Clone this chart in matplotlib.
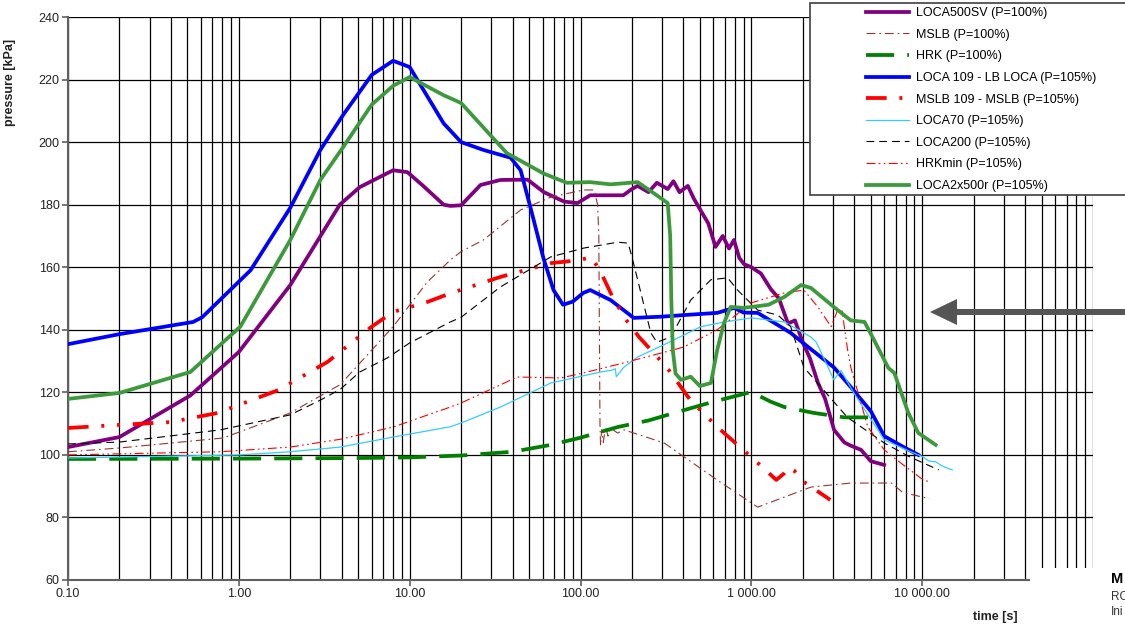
import matplotlib
matplotlib.use('Agg')

import matplotlib.pyplot as plt
from matplotlib.patches import Rectangle, Polygon
from matplotlib.ticker import LogLocator, FixedLocator, FuncFormatter, NullFormatter

plt.rcParams['font.family'] = ['Liberation Sans', 'DejaVu Sans']

W, H = 1125, 627

# ---- data (time [s], pressure [kPa]) ----
loca500sv_t = [0.1, 0.2, 0.52, 1.0, 2.0, 3.9, 5.1, 8.0, 9.7, 12, 15.8, 17.3, 20, 26, 34, 49, 61, 80, 96, 114, 150,
               178, 200, 216, 250, 280, 324, 350, 380, 425, 460, 507, 560, 617, 680, 740, 791, 850, 906, 1000, 1138,
               1300, 1450, 1640, 1800, 2000, 2200, 2456, 2700, 3050, 3500, 3800, 4390, 5000, 5985]
loca500sv_p = [102.5, 105.7, 119, 132.9, 154.3, 180, 185.6, 191, 190.4, 186, 180, 179.6, 179.8, 186.3, 187.9, 188, 184,
               181, 180.5, 183, 183, 183, 185, 186, 184, 187, 185, 187.5, 184, 186, 182, 178, 174, 166.5, 170, 166,
               168.7, 163, 161, 160, 158, 153, 150, 142, 143, 136, 131, 123, 118, 108, 104, 103, 101.6, 98, 96.8]

mslb_t = [0.1, 0.2, 0.81, 2.0, 3.93, 8.0, 12.7, 17.3, 20, 27, 44.6, 67, 104, 120, 126, 128, 129, 130, 131, 133, 136,
          140, 145, 150, 165, 180, 309, 630, 1090, 1560, 2230, 3820, 6600, 7700, 11000]
mslb_p = [101, 102.2, 105.4, 113.4, 122.5, 141, 155.3, 162.3, 165, 168.7, 178.3, 182.4, 184.7, 184.7, 180, 170, 140,
          110, 103, 108, 104, 109, 106, 108.5, 107, 108, 103.8, 92, 83.3, 86.5, 89.7, 91, 91, 88, 86]

hrk_t = [0.1, 1, 5, 10, 20, 40, 67, 100, 165, 250, 403, 600, 1000, 1300, 1560, 2330, 3500, 5000]
hrk_p = [98.7, 98.8, 99, 99.2, 99.8, 101, 103.2, 105.5, 108.9, 111, 114.3, 117, 120.1, 117, 115.3, 113.4, 112, 112]

loca109_t = [0.1, 0.2, 0.54, 0.61, 1.17, 2.0, 3.0, 4.08, 6.0, 8.0, 10, 15.8, 20, 27, 39, 44.6, 51, 60.6, 69.5, 79, 90,
             104, 114, 150, 205, 300, 403, 631, 794, 900, 1090, 1430, 1700, 2150, 3040, 3820, 5000, 6000, 7500, 9500]
loca109_p = [135.4, 138.6, 142.5, 144, 159, 179, 197.5, 208.7, 221.5, 226, 224, 206, 200, 197.5, 195, 191, 179, 163,
             152.7, 148, 149, 151.8, 152.7, 149.5, 143.8, 144.2, 144.7, 145.4, 147, 145.5, 145.4, 141.5, 139, 134.5,
             128, 121.7, 114, 106, 103, 100]

mslb109_t = [0.1, 0.2, 0.4, 0.75, 1.7, 3.3, 6, 8, 12.7, 17, 34, 67, 100, 115, 130, 150, 180, 220, 320, 440, 630, 1000,
             1400, 1550, 1650, 1780, 1950, 2900]
mslb109_p = [108.6, 109.6, 110.5, 113.4, 120.7, 129.7, 141, 145.7, 148.9, 151.5, 156.9, 161.3, 162.3, 163.3, 159,
             151.8, 144, 137.7, 128, 117.5, 109, 99.3, 92, 94, 96, 95, 92, 85.6]

loca70_t = [0.1, 1.02, 2.0, 3.93, 8, 17.3, 20, 34, 67, 131, 150, 160, 162, 179, 216, 324, 507, 696, 1000, 1560, 2230,
            2400, 2500, 3040, 3350, 3980, 6000, 8900, 10000, 11000, 12000, 13000, 14000, 15000]
loca70_p = [99, 100, 101, 102.5, 105.7, 109, 110.2, 115.3, 123, 126.5, 127, 127.5, 125, 128, 131.3, 135.8, 141, 142.5,
            143.8, 142.5, 137.7, 136, 134, 124, 127, 119.8, 104.8, 100.6, 99.5, 98, 97.8, 96.5, 95.8, 95.2]

loca200_t = [0.1, 0.2, 0.78, 2.0, 3.0, 3.93, 5.1, 7.4, 10, 17.3, 20, 34, 67, 104, 165, 190, 200, 230, 258, 280, 338,
             442, 580, 727, 830, 1090, 1430, 1700, 2030, 2650, 3650, 6000, 8500, 12500]
loca200_p = [103.5, 104.1, 108, 112.8, 117.5, 121, 126.5, 131, 135.8, 142.5, 144, 153.7, 163.3, 166.1, 168, 167.7,
             163.3, 150, 139, 136, 137.7, 149.5, 156, 156.6, 152.7, 146.3, 144.7, 141, 128, 120.7, 112, 103.8, 99.3,
             95.2]

hrkmin_t = [0.1, 0.78, 2.0, 3.93, 8, 17.3, 20, 42.7, 77, 104, 179, 403, 631, 1000, 1560, 2030, 2450, 2930, 3200, 3400,
            3650, 3820, 4800, 6000, 7500, 9800, 11000]
hrkmin_p = [100, 101, 102.5, 105, 108.9, 115.3, 116.6, 124.9, 124.6, 126.2, 129.4, 134.5, 140, 148.6, 151.8, 152.7,
            147.3, 141, 146.3, 146, 134, 128, 109, 101.6, 97.4, 92.6, 91.3]

loca2x500r_t = [0.1, 0.2, 0.52, 1.02, 2.0, 3.0, 4.08, 6.0, 8, 10, 15.8, 20, 37, 60.6, 83, 114, 150, 216, 268, 324, 335,
                340, 347, 360, 388, 442, 500, 580, 631, 690, 757, 906, 1260, 1560, 1954, 2230, 3040, 3820, 4600, 5230,
                6340, 6870, 8300, 9500, 12000]
loca2x500r_p = [117.9, 119.8, 126.5, 141, 168.7, 187.9, 198.4, 212, 218, 220.8, 215, 212.5, 196.5, 190, 187, 187.2,
                186.5, 187.2, 183.7, 180.5, 170, 150, 133.5, 126, 124, 125, 122, 123, 133.5, 142, 147.3, 147, 148,
                150.5, 154.3, 153.4, 147.3, 143, 142.5, 136.7, 127.8, 126.2, 113.4, 107, 103.2]

series = [
    ("LOCA500SV (P=100%)", loca500sv_t, loca500sv_p, '#800080', 2.7, '-'),
    ("MSLB (P=100%)", mslb_t, mslb_p, '#993333', 0.8, (0, (8, 3.5, 1.5, 3.5))),
    ("HRK (P=100%)", hrk_t, hrk_p, '#008000', 2.7, (0, (7.5, 3.5))),
    ("LOCA 109 - LB LOCA (P=105%)", loca109_t, loca109_p, '#0000ff', 2.7, '-'),
    ("MSLB 109 - MSLB (P=105%)", mslb109_t, mslb109_p, '#ff0000', 2.7, (0, (5.5, 3.4, 0.8, 3.4, 0.8, 3.4))),
    ("LOCA70 (P=105%)", loca70_t, loca70_p, '#33ccff', 0.9, '-'),
    ("LOCA200 (P=105%)", loca200_t, loca200_p, '#000000', 0.8, (0, (7, 4.5))),
    ("HRKmin (P=105%)", hrkmin_t, hrkmin_p, '#ff0000', 0.8, (0, (8, 3, 1.5, 3, 1.5, 3))),
    ("LOCA2x500r (P=105%)", loca2x500r_t, loca2x500r_p, '#3c9a3c', 2.7, '-'),
]

fig = plt.figure(figsize=(W / 100, H / 100), dpi=100)
ax = fig.add_axes([68 / W, (H - 580) / H, (1093 - 68) / W, (580 - 17) / H])

handles = []
for label, t, p, col, lw, ls in series:
    ln, = ax.plot(t, p, color=col, lw=lw, linestyle=ls, label=label, zorder=3)
    handles.append(ln)

ax.set_xscale('log')
ax.set_xlim(0.1, 1e5)
ax.set_ylim(60, 240)
ax.yaxis.set_major_locator(FixedLocator(range(60, 241, 20)))
ax.xaxis.set_major_locator(LogLocator(base=10, numticks=12))
ax.xaxis.set_minor_locator(LogLocator(base=10, subs=range(2, 10), numticks=12))
ax.xaxis.set_major_formatter(FuncFormatter(lambda v, pos: f"{v:,.2f}".replace(',', ' ')))
ax.xaxis.set_minor_formatter(NullFormatter())

ax.grid(True, which='both', axis='x', color='black', lw=0.9)
ax.grid(True, which='major', axis='y', color='black', lw=0.9)
ax.set_axisbelow(True)

for s in ['top', 'right']:
    ax.spines[s].set_visible(False)
for s in ['left', 'bottom']:
    ax.spines[s].set_color('#606060')
    ax.spines[s].set_linewidth(1.5)

ax.tick_params(which='major', length=4, width=1.2, color='#606060', labelsize=9, labelcolor='#222222', pad=2)
ax.tick_params(which='minor', length=0)

fig.text(10 / W, 1 - 82 / H, 'pressure [kPa]', rotation=90, fontsize=9, fontweight='bold',
         ha='center', va='center', color='#222222')
fig.text(995 / W, 1 - 617 / H, 'time [s]', fontsize=9, fontweight='bold', ha='center', va='center',
         color='#222222')

# legend box (runs past the right edge like in the source image)
fig.add_artist(Rectangle((810 / W, 1 - 195 / H), 330 / W, 192 / H, transform=fig.transFigure,
                         facecolor='white', edgecolor='#404040', lw=1.2, zorder=4))
fig.legend(handles=handles, loc='upper left', bbox_to_anchor=(861 / W, 1 - 2 / H), frameon=False,
           fontsize=9, handlelength=3.4, handletextpad=0.6, labelspacing=0.77, borderaxespad=0)

# white block bottom right with cut-off text
fig.add_artist(Rectangle((1030 / W, 0), 100 / W, (H - 568) / H, transform=fig.transFigure,
                         facecolor='white', edgecolor='none', zorder=4))
fig.text(1111 / W, 1 - 579 / H, 'M', fontsize=10.5, fontweight='bold', va='center', zorder=6)
fig.text(1111 / W, 1 - 597 / H, 'RC', fontsize=8.5, va='center', color='#333333', zorder=6)
fig.text(1111 / W, 1 - 612 / H, 'Ini', fontsize=8.5, va='center', color='#333333', zorder=6)

# grey arrow pointing left
arrow_px = [(930, 312), (957, 299), (957, 309), (1130, 309), (1130, 315), (957, 315), (957, 325)]
fig.add_artist(Polygon([(x / W, 1 - y / H) for x, y in arrow_px], closed=True, transform=fig.transFigure,
                       facecolor='#555555', edgecolor='none', zorder=5))

fig.savefig('out.png', dpi=100)
